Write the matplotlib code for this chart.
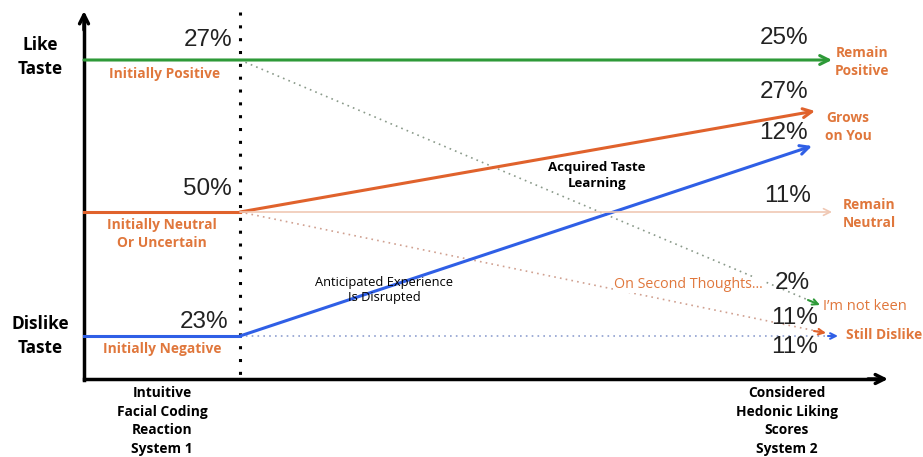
import matplotlib
matplotlib.use("Agg")
import matplotlib.pyplot as plt

# ---- data ----
start_labels = ["Initially Positive", "Initially Neutral\nOr Uncertain", "Initially Negative"]
start_pcts = [27, 50, 23]
end_labels = ["Remain\nPositive", "Grows\non You", "Remain\nNeutral", "I\u2019m not keen", "Still Dislike"]
end_pcts = [25, 27, 12, 11, 2, 11, 11]
y_labels = ["Like\nTaste", "Dislike\nTaste"]
x_labels = ["Intuitive\nFacial Coding\nReaction\nSystem 1", "Considered\nHedonic Liking\nScores\nSystem 2"]
path_labels = ["Acquired Taste\nLearning", "Anticipated Experience\nIs Disrupted", "On Second Thoughts..."]

# ---- style ----
GREEN = "#2e9a38"
ORANGE = "#e0622c"
BLUE = "#2f5fe6"
TXT_OR = "#e0773c"
PALE = "#f0c8b4"
BOLD = "Open Sans"
W, H = 923, 457

fig = plt.figure(figsize=(W / 100, H / 100), dpi=100)
ax = fig.add_axes([0, 0, 1, 1])
ax.set_xlim(0, W)
ax.set_ylim(H, 0)
ax.axis("off")

# layout (pixel positions of the diagram scaffolding)
x0, x1 = 84, 240
y_pos, y_neu, y_neg = 60, 212, 336
y_axis = 379


def arrow(p, q, color, lw, ls="-", style="->", ms=14):
    ax.annotate("", xy=q, xytext=p,
                arrowprops=dict(arrowstyle=style, color=color, lw=lw, linestyle=ls,
                                mutation_scale=ms, shrinkA=0, shrinkB=0))


# axes arrows
ax.plot([x0, x0], [y_axis + 1, 20], color="black", lw=2.5, solid_capstyle="projecting")
arrow((x0, 30), (x0, 11), "black", 2.5, ms=16)
ax.plot([x0, 878], [y_axis, y_axis], color="black", lw=2.5)
arrow((868, y_axis), (888, y_axis), "black", 2.5, ms=16)

# dotted vertical
ax.plot([x1, x1], [12, y_axis], color="black", lw=2.2, ls=(0, (1, 3.2)))

# main lines
arrow((x0, y_pos), (832, y_pos), GREEN, 2.2, ms=16)
ax.plot([x0, x1], [y_neu, y_neu], color=ORANGE, lw=2.2)
arrow((x1, y_neu), (815, 111), ORANGE, 2.2, ms=16)
ax.plot([x0, x1], [y_neg, y_neg], color=BLUE, lw=2.2)
arrow((x1, y_neg), (812, 146), BLUE, 2.2, ms=16)
# pale "remain neutral"
arrow((x1, y_neu), (832, y_neu), PALE, 1.2, ms=12)
# dotted paths
ax.plot([x1, 820], [y_pos, 305], color="#8a9a8a", lw=1.2, ls=(0, (1, 2.5)))
arrow((808, 300), (820, 305), GREEN, 1.5, ms=10)
ax.plot([x1, 826], [y_neu, 333], color="#d0a090", lw=1.2, ls=(0, (1, 2.5)))
arrow((814, 331), (826, 333), ORANGE, 1.5, ms=10)
ax.plot([x1, 832], [y_neg, y_neg], color="#8f9fd0", lw=1.2, ls=(0, (1, 2.5)))
arrow((828, y_neg), (838, y_neg), BLUE, 1.5, ms=10)

# axis labels
ax.text(40, 57, y_labels[0], ha="center", va="center", fontsize=12.4, fontweight="bold",
        family=BOLD, linespacing=1.45)
ax.text(40, 336, y_labels[1], ha="center", va="center", fontsize=12.4, fontweight="bold",
        family=BOLD, linespacing=1.45)
ax.text(162, 421, x_labels[0], ha="center", va="center", fontsize=9.9, fontweight="bold",
        family=BOLD, linespacing=1.4)
ax.text(787, 421, x_labels[1], ha="center", va="center", fontsize=9.9, fontweight="bold",
        family=BOLD, linespacing=1.4)

# start labels
or_kw = dict(fontsize=9.9, fontweight="bold", color=TXT_OR, family=BOLD, va="center",
             linespacing=1.3)
ax.text(165, 74, start_labels[0], ha="center", **or_kw)
ax.text(162, 234, start_labels[1], ha="center", **or_kw)
ax.text(162, 349, start_labels[2], ha="center", **or_kw)

pct_kw = dict(fontsize=17.5, family="Liberation Sans", color="#222222", va="center")
ax.text(232, 40, f"{start_pcts[0]}%", ha="right", **pct_kw)
ax.text(232, 189, f"{start_pcts[1]}%", ha="right", **pct_kw)
ax.text(228, 322, f"{start_pcts[2]}%", ha="right", **pct_kw)

# end percentages
end_y = [38, 92, 133, 196, 283, 318, 347]
end_x = [808, 808, 808, 811, 810, 818, 818]
for v, xx, yy in zip(end_pcts, end_x, end_y):
    ax.text(xx, yy, f"{v}%", ha="right", **pct_kw)

# end labels
ax.text(862, 62, end_labels[0], ha="center", **or_kw)
ax.text(848, 127, end_labels[1], ha="center", **or_kw)
ax.text(869, 214, end_labels[2], ha="center", **or_kw)
ax.text(823, 307, end_labels[3], ha="left", fontsize=10.5, color=TXT_OR, family=BOLD, va="center")
ax.text(846, 335, end_labels[4], ha="left", **or_kw)

# path labels
ax.text(597, 176, path_labels[0], ha="center", va="center", fontsize=9.5, fontweight="bold",
        family=BOLD, linespacing=1.3)
ax.text(384, 290, path_labels[1], ha="center", va="center", fontsize=9.3,
        family=BOLD, linespacing=1.2)
ax.text(614, 285, path_labels[2], ha="left", va="center", fontsize=10.3,
        color=TXT_OR, family=BOLD,
        bbox=dict(facecolor="white", edgecolor="none", pad=0.5))

fig.savefig("out.png", dpi=100)
